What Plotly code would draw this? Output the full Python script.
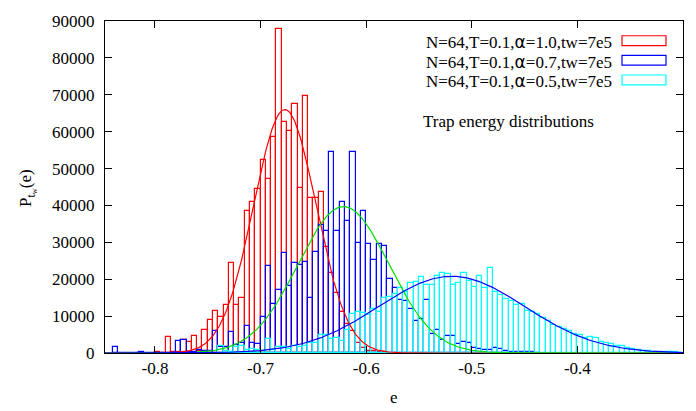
import numpy as np
import plotly.graph_objects as go

# Histogram bin width and first bin centre of each series
BIN_WIDTH = 0.005

red_start = -0.7975
red_counts = [300, 0, 4340, 200, 300, 3650, 3000, 4600, 600, 6300,
              9050, 11450, 9670, 13050, 24500, 12960, 14800, 38530, 40930, 44560,
              52280, 47220, 58500, 87960, 62500, 60270, 67560, 44740, 69770, 41900,
              41900, 43700, 28760, 21650, 16330, 11000, 7900, 6100, 2600, 1300,
              600, 600, 300, 200]

blue_start = -0.8375
blue_counts = [1500, 0, 0, 0, 0, 150, 0, 0, 0, 0,
               0, 0, 3300, 3500, 300, 200, 800, 500, 600, 6100,
               1700, 1500, 5670, 2130, 2700, 7400, 2800, 2500, 9700, 23600,
               13230, 16960, 27160, 18290, 24400, 23880, 24770, 15000, 27430, 34800,
               33020, 54500, 33020, 40930, 35870, 54500, 29830, 38440, 29560, 25200,
               29560, 29030, 20060, 17660, 14500, 14100, 11900, 8570, 9240, 14500,
               5240, 6300, 3460, 4600, 4600, 2400, 3000, 2800, 1300, 1200,
               800, 700, 1300, 1200, 500, 400, 400, 300, 200, 200,
               100]

cyan_start = -0.7375
cyan_counts = [1800, 600, 400, 1500, 1800, 700, 1200, 800, 600, 3900,
               800, 1600, 1600, 1000, 1800, 1700, 1770, 2580, 2580, 4800,
               4800, 3900, 4000, 3200, 6120, 10570, 11000, 10800, 10300, 11900,
               11000, 14830, 15200, 15900, 17700, 16500, 19100, 19200, 20600, 18500,
               18500, 21000, 21700, 21400, 18560, 19000, 21700, 19440, 17840, 20950,
               17660, 23170, 16510, 15630, 14730, 14110, 13050, 13230, 11450, 11000,
               10570, 9500, 8600, 7720, 7000, 6570, 5950, 5240, 4800, 4200,
               4300, 4200, 3000, 2750, 2400, 1950, 1850, 1420, 1000, 750,
               600, 500, 350, 300, 250, 200, 150, 100]

# Gaussian fits: (amplitude, mean, sigma, colour)
fits = [
    (66000, -0.677, 0.0296, "#ff0000"),
    (39700, -0.6215, 0.043, "#00e000"),
    (20800, -0.519, 0.069, "#0000ff"),
]

legend_labels = [
    "N=64,T=0.1,α=1.0,tw=7e5",
    "N=64,T=0.1,α=0.7,tw=7e5",
    "N=64,T=0.1,α=0.5,tw=7e5",
]
series_colors = ["#ff0000", "#0000ff", "#00ffff"]

x_ticks = [-0.8, -0.7, -0.6, -0.5, -0.4, -0.3]
y_ticks = list(range(0, 90001, 10000))

X_RANGE = [-0.8473, -0.3]
Y_RANGE = [0, 90000]
FONT = "Liberation Serif"

fig = go.Figure()

for start, counts, color in [(red_start, red_counts, series_colors[0]),
                             (blue_start, blue_counts, series_colors[1]),
                             (cyan_start, cyan_counts, series_colors[2])]:
    centres = np.round(start + BIN_WIDTH * np.arange(len(counts)), 5)
    fig.add_trace(go.Bar(
        x=centres, y=counts, width=BIN_WIDTH,
        marker=dict(color="rgba(0,0,0,0)", line=dict(color=color, width=1.2)),
        hoverinfo="skip",
    ))

xs = np.linspace(X_RANGE[0], X_RANGE[1], 600)
for amp, mu, sig, color in fits:
    fig.add_trace(go.Scatter(
        x=xs, y=amp * np.exp(-(xs - mu) ** 2 / (2 * sig ** 2)),
        mode="lines", line=dict(color=color, width=1.2), hoverinfo="skip",
    ))

# Plot-area geometry in pixels, used for placing the key and titles
W, H = 696, 411
L, R, T, B = 105, 683, 15, 353


def px(xp):
    return (xp - L) / (R - L)


def py(yp):
    return (B - yp) / (B - T)


annotations = []
shapes = []
row_y = [35, 55, 75]
for label, color, yc in zip(legend_labels, series_colors, row_y):
    text = label.replace("α", "<span style='font-family:DejaVu Sans'>α</span>")
    annotations.append(dict(
        text=text, xref="paper", yref="paper", x=px(614), y=py(yc + 1.5),
        xanchor="right", yanchor="middle", showarrow=False,
        font=dict(family=FONT, size=17, color="black"),
    ))
    shapes.append(dict(
        type="rect", xref="paper", yref="paper",
        x0=px(622), x1=px(666), y0=py(yc - 5), y1=py(yc + 5),
        line=dict(color=color, width=1.2), fillcolor="rgba(0,0,0,0)",
    ))

annotations.append(dict(
    text="Trap energy distributions", xref="paper", yref="paper",
    x=px(421), y=py(117), xanchor="left", yanchor="middle", showarrow=False,
    font=dict(family=FONT, size=17, color="black"),
))
annotations.append(dict(
    text="e", xref="paper", yref="paper", x=px(394), y=py(410),
    xanchor="center", yanchor="bottom", showarrow=False,
    font=dict(family=FONT, size=17, color="black"),
))
annotations.append(dict(
    text="P<sub>t<sub>w</sub></sub>(e)", xref="paper", yref="paper",
    x=px(28), y=py(185), xanchor="center", yanchor="middle", textangle=-90,
    showarrow=False, font=dict(family=FONT, size=17, color="black"),
))

axis_common = dict(
    showline=True, linecolor="black", linewidth=1, mirror="ticks",
    ticks="inside", ticklen=7, tickwidth=1, tickcolor="black",
    showgrid=False, zeroline=False,
    tickfont=dict(family=FONT, size=17, color="black"),
)

fig.update_layout(
    width=W, height=H,
    margin=dict(l=L, r=W - R, t=T, b=H - B, pad=0),
    plot_bgcolor="white", paper_bgcolor="white",
    showlegend=False, barmode="overlay", bargap=0,
    xaxis=dict(range=X_RANGE, tickvals=x_ticks,
               ticktext=[f"{v:.1f}" for v in x_ticks],
               **axis_common),
    yaxis=dict(range=Y_RANGE, tickvals=y_ticks,
               ticktext=[str(v) for v in y_ticks], ticklabelstandoff=6,
               **axis_common),
    annotations=annotations, shapes=shapes,
)

fig.write_html("out.html")
